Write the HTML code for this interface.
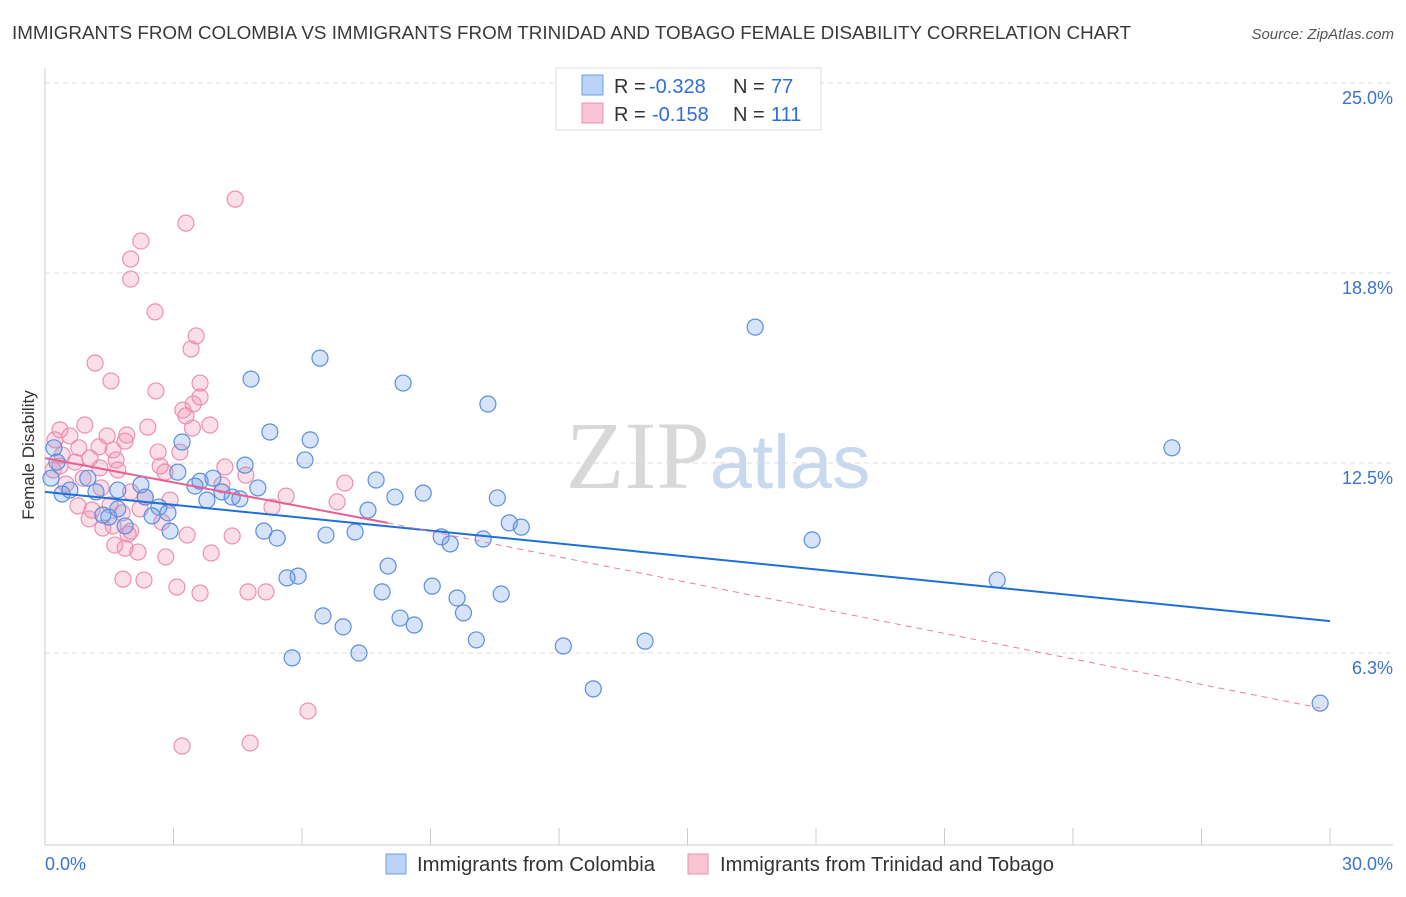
<!DOCTYPE html>
<html><head><meta charset="utf-8"><style>
body{margin:0;background:#fff;font-family:"Liberation Sans",sans-serif;}
</style></head><body>
<svg id="chart" width="1406" height="892" xmlns="http://www.w3.org/2000/svg" font-family="Liberation Sans, sans-serif">
<text x="12" y="39" font-size="18.5" fill="#3a3a3a" textLength="1119" lengthAdjust="spacingAndGlyphs">IMMIGRANTS FROM COLOMBIA VS IMMIGRANTS FROM TRINIDAD AND TOBAGO FEMALE DISABILITY CORRELATION CHART</text>
<text x="1394" y="39" font-size="15" fill="#555" font-style="italic" text-anchor="end">Source: ZipAtlas.com</text>
<text x="718" y="488" font-size="96" text-anchor="middle"><tspan fill="#d8d8d8" font-family="Liberation Serif, serif">ZIP</tspan><tspan fill="#c8d8ee" font-size="76">atlas</tspan></text>
<g id="grid"></g><g id="axes"></g><g id="pts"></g><g id="trends"></g>
<text transform="translate(34,455) rotate(-90)" font-size="17" fill="#333" text-anchor="middle">Female Disability</text>
<g>
<rect x="556" y="68" width="265" height="62" fill="#fff" stroke="#ddd"/>
<rect x="582" y="75" width="21" height="20" fill="#b9d2f6" stroke="#6f9ee6"/>
<rect x="582" y="103" width="21" height="20" fill="#f9c4d4" stroke="#ec8fae"/>
<text x="614" y="93" font-size="20" fill="#333">R = <tspan fill="#2e6fd6" x="649">-0.328</tspan><tspan x="733">N = </tspan><tspan fill="#2e6fd6" x="771">77</tspan></text>
<text x="614" y="121" font-size="20" fill="#333">R = <tspan fill="#2e6fd6" x="652">-0.158</tspan><tspan x="733">N = </tspan><tspan fill="#2e6fd6" x="771">111</tspan></text>
</g>
<g>
<rect x="386" y="854" width="20" height="20" fill="#b9d2f6" stroke="#6f9ee6"/>
<text x="417" y="871" font-size="20" fill="#333" textLength="238" lengthAdjust="spacingAndGlyphs">Immigrants from Colombia</text>
<rect x="688" y="854" width="20" height="20" fill="#f9c4d4" stroke="#ec8fae"/>
<text x="720" y="871" font-size="20" fill="#333" textLength="334" lengthAdjust="spacingAndGlyphs">Immigrants from Trinidad and Tobago</text>
</g>
</svg>
<script>
const yTicks=[6.25,12.5,18.75,25];
const yTickLabels=["6.3%","12.5%","18.8%","25.0%"];
const xTicks=[0,3,6,9,12,15,18,21,24,27,30];
const blueX=[16.58,26.31,29.77,22.23,17.91,6.42,8.36,10.34,4.81,5.25,6.19,6.07,3.2,4.67,7.73,8.83,8.17,10.56,7.54,10.84,11.12,9.25,9.46,10.23,7.24,6.56,5.11,5.42,8.01,9.04,7.87,9.62,10.65,5.91,5.65,6.49,6.96,8.29,8.62,9.77,10.07,12.1,14.01,7.33,5.77,12.8,3.62,3.1,3.92,3.5,4.13,4.37,4.55,4.97,3.78,2.34,2.66,2.87,2.5,1.87,1.49,1.7,2.24,1.7,1.19,1.0,0.4,0.58,0.14,0.21,1.35,2.92,0.28];
const blueY=[16.97,13.0,4.6,8.65,9.97,15.95,15.13,14.44,15.26,13.52,13.26,12.6,13.19,12.43,11.94,11.51,11.38,11.35,10.95,10.53,10.39,10.07,9.84,10.0,10.23,10.13,10.26,10.03,9.11,8.45,8.26,8.06,8.19,8.78,8.72,7.47,7.11,7.4,7.17,7.57,6.68,6.48,6.64,6.25,6.09,5.07,11.9,12.2,12.0,11.74,11.55,11.38,11.32,11.68,11.28,11.38,11.05,10.86,10.76,10.43,10.72,10.99,11.78,11.61,11.55,12.0,11.48,11.61,12.0,13.0,10.79,10.26,12.53];
const pinkX=[4.44,3.29,2.24,2.0,2.0,2.57,3.53,3.41,1.17,1.54,3.62,2.59,3.62,3.46,3.22,3.29,3.85,3.44,2.4,0.93,0.35,0.58,1.45,1.91,1.87,1.26,1.59,2.64,3.15,0.23,0.79,0.4,1.05,0.7,0.35,1.66,1.28,2.69,1.7,4.2,4.69,0.19,0.89,0.49,1.31,2.0,2.34,2.92,1.52,0.77,1.1,1.8,2.22,2.73,1.59,1.03,2.0,1.35,1.94,3.32,4.37,5.63,5.3,6.82,7.0,4.13,1.63,1.87,2.17,2.82,3.88,1.82,2.31,3.08,3.62,4.74,5.16,6.14,3.2,4.79,2.8];
const pinkY=[21.18,20.39,19.8,19.21,18.55,17.47,16.68,16.25,15.79,15.2,15.13,14.87,14.67,14.44,14.24,14.05,13.75,13.65,13.68,13.75,13.59,13.39,13.39,13.42,13.22,13.03,12.93,12.86,12.86,13.26,13.0,12.76,12.66,12.53,12.4,12.6,12.34,12.4,12.27,12.37,12.1,12.27,12.0,11.81,11.68,11.55,11.38,11.28,11.12,11.09,10.95,10.86,10.99,10.56,10.43,10.66,10.26,10.36,10.16,10.13,10.1,11.41,11.05,11.22,11.84,11.78,9.8,9.7,9.57,9.41,9.54,8.68,8.65,8.42,8.22,8.26,8.26,4.34,3.19,3.29,12.2];
const blueTrend=[0,11.55,30,7.3];
const pinkTrend=[0,12.66,8.0,10.53,29.77,4.44];
const NS="http://www.w3.org/2000/svg";
const sx=v=>45+v/30*1285, sy=v=>843-v/25*760;
function mk(t,a,p){const e=document.createElementNS(NS,t);for(const k in a)e.setAttribute(k,a[k]);document.getElementById(p).appendChild(e);return e;}
yTicks.forEach((t,i)=>{
 const g=mk('line',{x1:45,x2:1393,y1:sy(t),y2:sy(t),stroke:'#ddd','stroke-dasharray':'5,4'},'grid');
 
 
 const l=mk('text',{x:1393,y:sy(t)+21,'font-size':18,fill:'#3b73d0','text-anchor':'end'},'axes');l.textContent=yTickLabels[i];
 
 
});
let a=mk('line',{x1:45,x2:45,y1:68,y2:845,stroke:'#ccc'},'axes');


a=mk('line',{x1:45,x2:1393,y1:845,y2:845,stroke:'#ccc'},'axes');


xTicks.forEach(t=>{const e=mk('line',{x1:sx(t),x2:sx(t),y1:828,y2:845,stroke:'#ccc'},'axes');
 
 });
let l=mk('text',{x:45,y:870,'font-size':18,fill:'#3b73d0'},'axes');l.textContent='0.0%';


l=mk('text',{x:1393,y:870,'font-size':18,fill:'#3b73d0','text-anchor':'end'},'axes');l.textContent='30.0%';


pinkX.forEach((x,i)=>{const c=mk('circle',{cx:sx(x),cy:sy(pinkY[i]),r:8,fill:'rgba(242,140,172,0.28)',stroke:'#ee8fb0','stroke-width':1.2},'pts');
 
 });
blueX.forEach((x,i)=>{const c=mk('circle',{cx:sx(x),cy:sy(blueY[i]),r:8,fill:'rgba(110,155,230,0.28)',stroke:'#5a8fe0','stroke-width':1.2},'pts');
 
 });
let t=mk('line',{x1:sx(blueTrend[0]),y1:sy(blueTrend[1]),x2:sx(blueTrend[2]),y2:sy(blueTrend[3]),stroke:'#1f6fd8','stroke-width':2},'trends');


t=mk('line',{x1:sx(pinkTrend[0]),y1:sy(pinkTrend[1]),x2:sx(pinkTrend[2]),y2:sy(pinkTrend[3]),stroke:'#e8608f','stroke-width':2},'trends');


t=mk('line',{x1:sx(pinkTrend[2]),y1:sy(pinkTrend[3]),x2:sx(pinkTrend[4]),y2:sy(pinkTrend[5]),stroke:'#e8809f','stroke-width':1,'stroke-dasharray':'6,5'},'trends');


</script>
</body></html>
